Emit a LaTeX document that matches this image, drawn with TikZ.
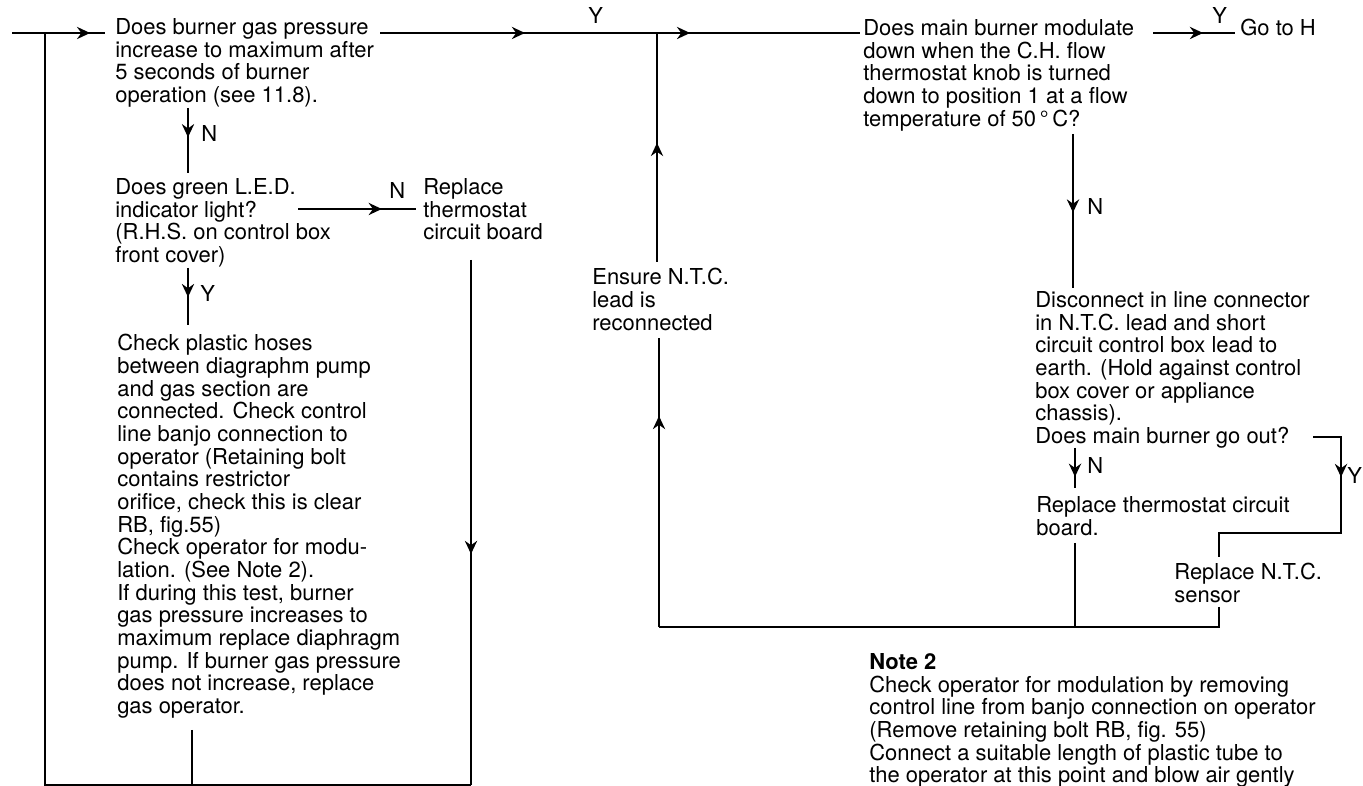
\documentclass[tikz,border=0pt]{standalone}
\usepackage{fontspec}
\setmainfont{TeX Gyre Heros}
\usetikzlibrary{arrows.meta,decorations.markings}
\begin{document}
\begin{tikzpicture}[
  x=0.02cm, y=-0.02cm,
  every node/.style={anchor=north west, align=left, inner sep=0pt, font=\fontsize{12.5}{12.9}\selectfont},
  lbl/.style={anchor=base west},
  flow/.style={line width=0.95pt},
  tipat/.style={postaction={decorate, decoration={markings, mark=at position #1 with {\arrow{Stealth[length=7.5pt,width=7pt,inset=2.5pt]}}}}}
]
  \useasboundingbox (0,0) rectangle (1363,786);

  \node (q1) at (115,18) {Does burner gas pressure\\increase to maximum after\\5 seconds of burner\\operation (see 11.8).};
  \node (q2) at (115,178) {Does green L.E.D.\\indicator light?\\(R.H.S. on control box\\front cover)};
  \node (rep1) at (423,178) {Replace\\thermostat\\circuit board};
  \node (chk) at (117,334) {Check plastic hoses\\between diagraphm pump\\and gas section are\\connected. Check control\\line banjo connection to\\operator (Retaining bolt\\contains restrictor\\orifice, check this is clear\\RB, fig.55)\\Check operator for modu-\\lation. (See Note 2).\\If during this test, burner\\gas pressure increases to\\maximum replace diaphragm\\pump. If burner gas pressure\\does not increase, replace\\gas operator.};
  \node (ens) at (592,268) {Ensure N.T.C.\\lead is\\reconnected};
  \node (q3) at (863,19) {Does main burner modulate\\down when the C.H. flow\\thermostat knob is turned\\down to position 1 at a flow\\temperature of 50\,°\,C?};
  \node (goh) at (1240,19) {Go to H};
  \node (disc) at (1035,291) {Disconnect in line connector\\in N.T.C. lead and short\\circuit control box lead to\\earth. (Hold against control\\box cover or appliance\\chassis).\\Does main burner go out?};
  \node (rep2) at (1036,496) {Replace thermostat circuit\\board.};
  \node (rep3) at (1174,563) {Replace N.T.C.\\sensor};
  \node (note) at (869,653) {\textbf{Note 2}\\Check operator for modulation by removing\\control line from banjo connection on operator\\(Remove retaining bolt RB, fig. 55)\\Connect a suitable length of plastic tube to\\the operator at this point and blow air gently};

  \node[lbl] (y1) at (588,24) {Y};
  \node[lbl] (n1) at (201,142) {N};
  \node[lbl] (y2) at (200,302) {Y};
  \node[lbl] (n2) at (389,199) {N};
  \node[lbl] (y3) at (1212,24) {Y};
  \node[lbl] (n3) at (1087,215) {N};
  \node[lbl] (n4) at (1087,474) {N};
  \node[lbl] (y4) at (1347,484) {Y};

  \coordinate (in) at (12,33);
  \coordinate (loop-top) at (45,33);
  \coordinate (q1-in) at (105,33);
  \coordinate (q1-out) at (380,33);
  \coordinate (q3-in) at (860,33);
  \coordinate (join) at (657,33);
  \coordinate (q1-n) at (188,108);
  \coordinate (q2-top) at (188,173);
  \coordinate (q2-y) at (188,268);
  \coordinate (chk-top) at (188,325);
  \coordinate (q2-n) at (298,209);
  \coordinate (rep1-in) at (416,209);
  \coordinate (rep1-out) at (471,260);
  \coordinate (loop-br) at (471,785);
  \coordinate (chk-out) at (192,730);
  \coordinate (loop-bl) at (45,785);
  \coordinate (ens-top) at (657,262);
  \coordinate (ens-bot) at (659,338);
  \coordinate (ret-l) at (659,627);
  \coordinate (q3-y) at (1153,33);
  \coordinate (goh-in) at (1235,33);
  \coordinate (q3-n) at (1073,134);
  \coordinate (disc-top) at (1073,288);
  \coordinate (disc-n) at (1075,448);
  \coordinate (rep2-top) at (1075,488);
  \coordinate (disc-y) at (1313,437);
  \coordinate (bend) at (1341,533);
  \coordinate (rep3-top) at (1219,557);
  \coordinate (rep2-out) at (1075,543);
  \coordinate (rep3-out) at (1219,607);
  \coordinate (ret-r) at (1219,627);

  \draw[flow, tipat=0.84] (in) -- (q1-in);
  \draw[flow] (chk-out) |- (loop-bl) -- (loop-top);
  \draw[flow, tipat=0.56] (rep1-out) -- (loop-br);
  \draw[flow] (loop-br) -- (chk-out |- loop-br);
  \draw[flow, tipat=0.45] (q1-n) -- (q2-top);
  \draw[flow, tipat=0.51] (q2-y) -- (chk-top);
  \draw[flow, tipat=0.71] (q2-n) -- (rep1-in);
  \draw[flow, tipat=0.302, tipat=0.646] (q1-out) -- (q3-in);
  \draw[flow, tipat=0.52] (ens-top) -- (join);
  \draw[flow, tipat=0.73] (ret-l) -- (ens-bot);
  \draw[flow] (rep3-out) -- (ret-r) -- (ret-l);
  \draw[flow] (rep2-out) -- (rep2-out |- ret-r);
  \draw[flow, tipat=0.61] (q3-y) -- (goh-in);
  \draw[flow, tipat=0.51] (q3-n) -- (disc-top);
  \draw[flow, tipat=0.72] (disc-n) -- (rep2-top);
  \draw[flow, tipat=0.252] (disc-y) -| (bend) -| (rep3-top);
\end{tikzpicture}
\end{document}
